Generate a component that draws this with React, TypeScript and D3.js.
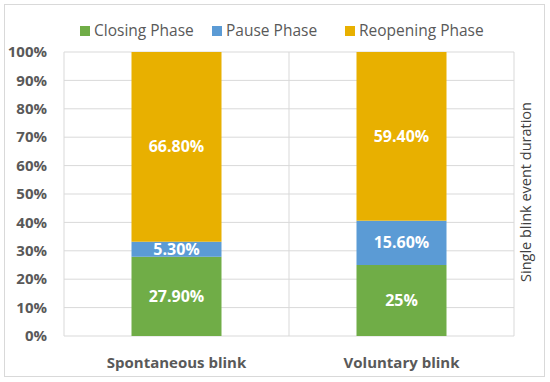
import React, { useEffect, useRef } from "react";
import * as d3 from "d3";

const categories = ["Spontaneous blink", "Voluntary blink"];
const phases = ["Closing Phase", "Pause Phase", "Reopening Phase"];
const closing = [27.9, 25];
const pause = [5.3, 15.6];
const reopening = [66.8, 59.4];
const labels = [
  ["27.90%", "5.30%", "66.80%"],
  ["25%", "15.60%", "59.40%"],
];
const yTicks = [0, 10, 20, 30, 40, 50, 60, 70, 80, 90, 100];
const colors = ["#70ad47", "#5b9bd5", "#e8b000"];

const App = () => {
  const svgRef = useRef<SVGSVGElement>(null);

  useEffect(() => {
    const svg = d3.select(svgRef.current);
    svg.selectAll("*").remove();

    const width = 550;
    const height = 382;
    const font = "'Open Sans', sans-serif";
    const margin = { top: 52, right: 36, bottom: 46, left: 64 };
    const innerWidth = 514 - margin.left;
    const innerHeight = 336 - margin.top;

    svg.attr("width", width).attr("height", height)
      .style("position", "absolute").style("left", "0px").style("top", "0px");

    svg.append("rect")
      .attr("x", 4.5).attr("y", 4.5)
      .attr("width", 540).attr("height", 372)
      .attr("fill", "#fff")
      .attr("stroke", "#d9d9d9");

    const g = svg.append("g").attr("transform", `translate(${margin.left},${margin.top})`);

    const x = d3.scaleBand().domain(categories).range([0, innerWidth]).padding(0);
    const y = d3.scaleLinear().domain([0, 100]).range([innerHeight, 0]);

    // grid
    g.selectAll(".grid")
      .data(yTicks)
      .enter().append("line")
      .attr("x1", 0).attr("x2", innerWidth)
      .attr("y1", d => y(d)).attr("y2", d => y(d))
      .attr("stroke", "#d9d9d9").attr("stroke-width", 1);

    [0, ...categories.map(c => (x(c) as number) + x.bandwidth())].forEach(v => {
      g.append("line")
        .attr("x1", v).attr("x2", v)
        .attr("y1", 0).attr("y2", innerHeight)
        .attr("stroke", "#d9d9d9").attr("stroke-width", 1);
    });

    // y tick labels
    g.selectAll(".ytick")
      .data(yTicks)
      .enter().append("text")
      .attr("x", -17).attr("y", d => y(d))
      .attr("dy", "0.35em")
      .attr("text-anchor", "end")
      .attr("font-family", font).attr("font-size", 15).attr("font-weight", 700)
      .attr("fill", "#595959")
      .text(d => `${d}%`);

    // stacked bars
    const rows = categories.map((c, i) => ({ cat: c, vals: [closing[i], pause[i], reopening[i]] }));
    const barW = x.bandwidth() * 0.4;
    rows.forEach((r, i) => {
      let acc = 0;
      r.vals.forEach((v, j) => {
        const y0 = acc;
        const y1 = acc + v;
        acc = y1;
        const cx = (x(r.cat) as number) + x.bandwidth() / 2;
        g.append("rect")
          .attr("x", cx - barW / 2)
          .attr("y", y(y1))
          .attr("width", barW)
          .attr("height", y(y0) - y(y1))
          .attr("fill", colors[j]);
        g.append("text")
          .attr("x", cx)
          .attr("y", (y(y0) + y(y1)) / 2)
          .attr("dy", "0.35em")
          .attr("text-anchor", "middle")
          .attr("font-family", font).attr("font-size", 16).attr("font-weight", 700)
          .attr("fill", "#fff")
          .text(labels[i][j]);
      });
    });

    // x labels
    g.selectAll(".xlab")
      .data(categories)
      .enter().append("text")
      .attr("x", d => (x(d) as number) + x.bandwidth() / 2)
      .attr("y", innerHeight + 27)
      .attr("dy", "0.35em")
      .attr("text-anchor", "middle")
      .attr("font-family", font).attr("font-size", 15).attr("font-weight", 700)
      .attr("fill", "#595959")
      .text(d => d);

    // right axis title
    svg.append("text")
      .attr("transform", `translate(526,${margin.top + innerHeight / 2 - 2}) rotate(-90)`)
      .attr("text-anchor", "middle")
      .attr("dy", "0.35em")
      .attr("font-family", font).attr("font-size", 14.5)
      .attr("fill", "#404040")
      .text("Single blink event duration");

    // legend
    const legendX = [80, 212, 345];
    phases.forEach((p, i) => {
      const lg = svg.append("g").attr("transform", `translate(${legendX[i]},31)`);
      lg.append("rect")
        .attr("x", 0).attr("y", -5).attr("width", 10).attr("height", 10)
        .attr("fill", colors[i]);
      lg.append("text")
        .attr("x", 14).attr("y", 0).attr("dy", "0.35em")
        .attr("font-family", font).attr("font-size", 15.5)
        .attr("fill", "#595959")
        .text(p);
    });
  }, []);

  return <svg ref={svgRef}></svg>;
};

export default App;
